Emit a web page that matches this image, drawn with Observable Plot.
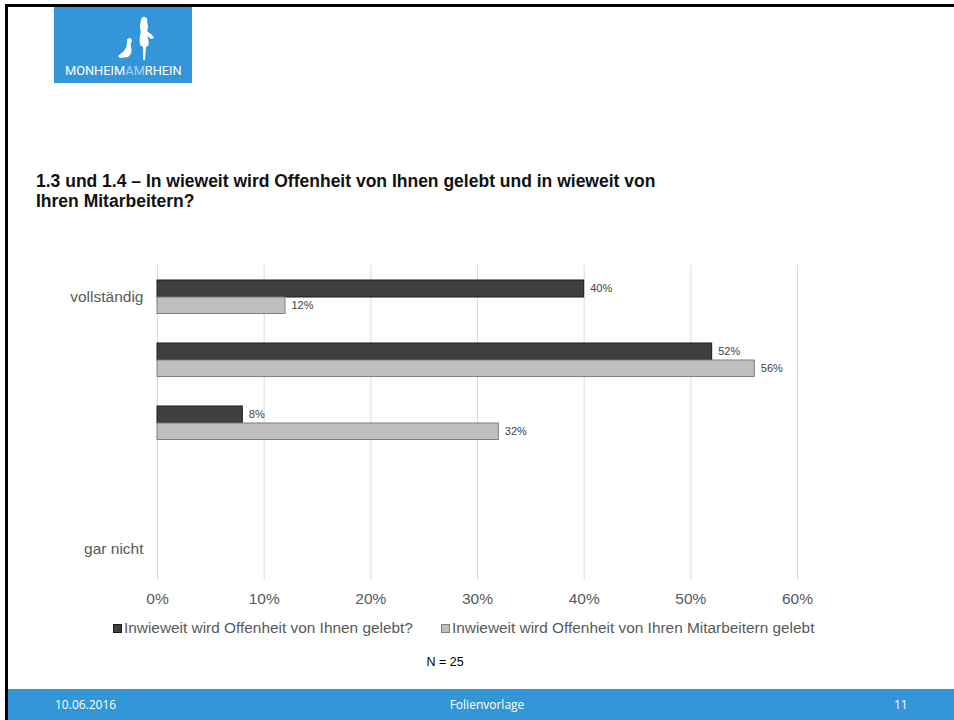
<!DOCTYPE html>
<html><head><meta charset="utf-8">
<script src="https://cdn.jsdelivr.net/npm/d3@7"></script>
<script src="https://cdn.jsdelivr.net/npm/@observablehq/plot@0.6"></script>
<style>
body{margin:0;background:#fff;}
#slide{position:relative;width:954px;height:720px;overflow:hidden;font-family:"Liberation Sans",Arial,sans-serif;background:#fff}
#bl{position:absolute;left:5px;top:4px;width:3px;height:716px;background:#000}
#bt{position:absolute;left:5px;top:4px;width:949px;height:3px;background:#000}
#logo{position:absolute;left:54px;top:7px;width:138px;height:76px;background:#3296d8}
#logotext{position:absolute;left:11px;top:56px;font-family:"Roboto","Liberation Sans",sans-serif;font-size:12.8px;color:#fff;white-space:nowrap}
#logotext span{color:#a9d3f2}
#title{position:absolute;left:36px;top:171px;font-size:17.5px;font-weight:bold;line-height:20px;color:#111;white-space:nowrap}
#chart{position:absolute;left:0;top:250px}
#legend{position:absolute;left:0;top:619px;width:954px;font-size:15.4px;color:#595959;white-space:nowrap}
.li{position:absolute;top:0}
.sw{display:inline-block;width:7px;height:7px;margin-right:2px;vertical-align:0px}
#n{position:absolute;left:0;width:890px;text-align:center;top:655px;font-size:12.5px;color:#000}
#footer{position:absolute;left:8px;top:689px;width:946px;height:31px;background:#3296d8;color:#fff;font-family:"Open Sans",sans-serif;font-size:12px}
#footer div{position:absolute;top:7px}
</style></head><body>
<div id="slide">
  <div id="bt"></div>
  <div id="bl"></div>
  <div id="logo">
    <svg width="138" height="56" style="position:absolute;left:0;top:0">
      <path d="M64 49 L70 44 Q73 40 73 36 Q72 32 75 31 Q78 31 78 34 Q76 36 77 40 Q79 46 74 50 L66 51 Z" fill="#fff"/>
      <path d="M87 13 Q88 9 91 10 Q94 11 93 15 Q95 20 93 24 L98 28 L100 31 L97 32 L93 29 Q96 36 94 39 L92 40 L91 53 L89 53 L89 40 L86 38 Q85 30 87 25 Q85 20 87 13 Z" fill="#fff"/>
    </svg>
    <div id="logotext">MONHEIM<span>AM</span>RHEIN</div>
  </div>
  <div id="title">1.3 und 1.4 – In wieweit wird Offenheit von Ihnen gelebt und in wieweit von<br>Ihren Mitarbeitern?</div>
  <div id="chart"></div>
  <div id="legend"></div>
  <div id="n">N = 25</div>
  <div id="footer">
    <div style="left:47px">10.06.2016</div>
    <div style="left:0;width:958px;text-align:center">Folienvorlage</div>
    <div style="left:886px">11</div>
  </div>
</div>
<script>
const categories = ["vollständig", "stufe2", "stufe3", "stufe4", "gar nicht"];
const categoryLabels = ["vollständig", "", "", "", "gar nicht"];
const seriesNames = ["Inwieweit wird Offenheit von Ihnen gelebt?", "Inwieweit wird Offenheit von Ihren Mitarbeitern gelebt"];
const selfValues = [40, 52, 8, 0, 0];
const staffValues = [12, 56, 32, 0, 0];
const xTicks = [0, 10, 20, 30, 40, 50, 60];
const seriesFill = ["#404040", "#bfbfbf"];
const seriesStroke = ["#1a1a1a", "#7f7f7f"];

const selfRows = categories.map((c, i) => ({cat: c, value: selfValues[i]})).filter(d => d.value > 0);
const staffRows = categories.map((c, i) => ({cat: c, value: staffValues[i]})).filter(d => d.value > 0);

const chart = Plot.plot({
  width: 954,
  height: 365,
  marginLeft: 157,
  marginRight: 157,
  marginTop: 15,
  marginBottom: 35,
  style: {fontFamily: "Liberation Sans, Arial, sans-serif", fontSize: "15.5px", color: "#595959", background: "transparent", overflow: "visible"},
  x: {domain: [0, 60], ticks: xTicks, tickFormat: d => d + "%", tickSize: 0, tickPadding: 12, label: null},
  y: {domain: categories, padding: 0, tickSize: 0, tickPadding: 14, label: null,
      tickFormat: d => categoryLabels[categories.indexOf(d)]},
  marks: [
    Plot.ruleX(xTicks, {stroke: "#d9d9d9", strokeWidth: 1}),
    Plot.barX(selfRows, {x: "value", y: "cat", fill: seriesFill[0], stroke: seriesStroke[0], strokeWidth: 1, insetTop: 15, insetBottom: 31}),
    Plot.barX(staffRows, {x: "value", y: "cat", fill: seriesFill[1], stroke: seriesStroke[1], strokeWidth: 1, insetTop: 32, insetBottom: 14.5}),
    Plot.text(selfRows, {x: "value", y: "cat", text: d => d.value + "%", dx: 6, dy: -8.5, textAnchor: "start", fontSize: 11, fill: "#404040"}),
    Plot.text(staffRows, {x: "value", y: "cat", text: d => d.value + "%", dx: 6, dy: 8.5, textAnchor: "start", fontSize: 11, fill: "#404040"})
  ]
});
document.getElementById("chart").appendChild(chart);

const legend = document.getElementById("legend");
const legendX = [113, 441];
seriesNames.forEach((name, i) => {
  const item = document.createElement("div");
  item.className = "li";
  item.style.left = legendX[i] + "px";
  const sw = document.createElement("span");
  sw.className = "sw";
  sw.style.background = seriesFill[i];
  sw.style.border = "1px solid " + seriesStroke[i];
  item.appendChild(sw);
  item.appendChild(document.createTextNode(name));
  legend.appendChild(item);
});
</script>
</body></html>
